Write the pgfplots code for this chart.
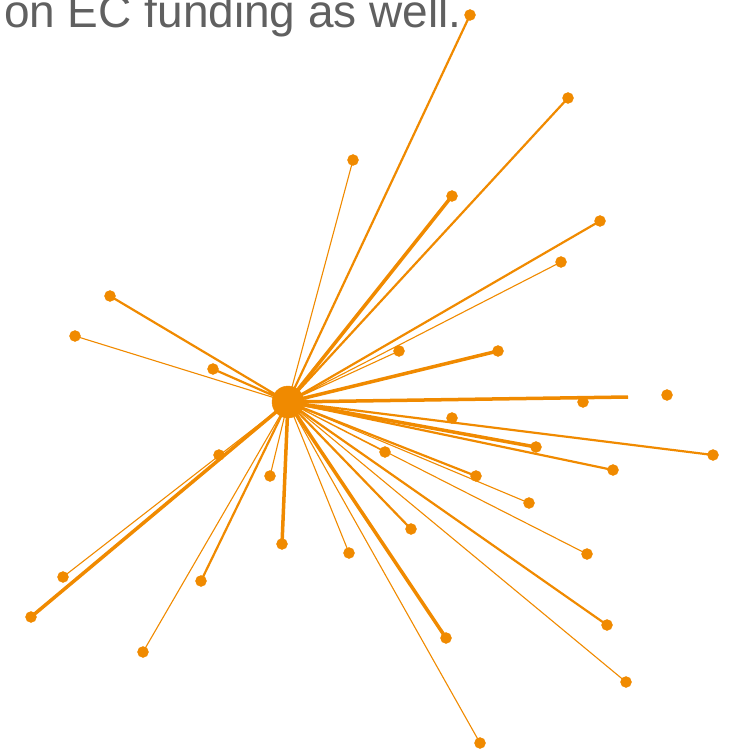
\documentclass[border=0pt]{standalone}
\usepackage{pgfplots}
\pgfplotsset{compat=1.18}
\usepackage{fontspec}
\setmainfont{Liberation Sans}
\definecolor{netorange}{RGB}{240,138,0}
\definecolor{captiongray}{RGB}{96,96,96}
\begin{document}
\begin{tikzpicture}
\useasboundingbox (0,0) rectangle (728pt,751pt);
\begin{axis}[
    scale only axis,
    width=728pt, height=751pt,
    xmin=0, xmax=728,
    ymin=0, ymax=751,
    y dir=reverse,
    hide axis,
    clip=false,
    unbounded coords=jump,
]
% thick edges
\addplot[netorange, line width=3.5pt] coordinates {
 (288,402) (452,196) (nan,nan)
 (288,402) (628,397) (nan,nan)
 (288,402) (536,447) (nan,nan)
 (288,402) (31,617) (nan,nan)
 (288,402) (282,544) (nan,nan)
 (288,402) (446,638) (nan,nan)
 (288,402) (498,351)
};
% medium edges
\addplot[netorange, line width=2.2pt] coordinates {
 (288,402) (470,15) (nan,nan)
 (288,402) (568,98) (nan,nan)
 (288,402) (600,221) (nan,nan)
 (288,402) (110,296) (nan,nan)
 (288,402) (213,369) (nan,nan)
 (288,402) (713,455) (nan,nan)
 (288,402) (613,470) (nan,nan)
 (288,402) (476,476) (nan,nan)
 (288,402) (411,529) (nan,nan)
 (288,402) (201,581) (nan,nan)
 (288,402) (607,625)
};
% thin edges
\addplot[netorange, line width=1.1pt] coordinates {
 (288,402) (353,160) (nan,nan)
 (288,402) (561,262) (nan,nan)
 (288,402) (75,336) (nan,nan)
 (288,402) (399,351) (nan,nan)
 (288,402) (385,452) (nan,nan)
 (288,402) (63,577) (nan,nan)
 (288,402) (270,476) (nan,nan)
 (288,402) (529,503) (nan,nan)
 (288,402) (349,553) (nan,nan)
 (288,402) (587,554) (nan,nan)
 (288,402) (143,652) (nan,nan)
 (288,402) (626,682) (nan,nan)
 (288,402) (480,743)
};
% nodes
\addplot[only marks, mark=*, mark size=5.5pt, color=netorange] coordinates {
 (470,15) (568,98) (353,160) (452,196) (600,221) (561,262) (110,296)
 (75,336) (399,351) (498,351) (213,369) (667,395) (583,402) (452,418)
 (713,455) (536,447) (385,452) (613,470) (476,476) (219,455) (270,476)
 (529,503) (411,529) (282,544) (349,553) (587,554) (63,577) (201,581)
 (31,617) (607,625) (446,638) (143,652) (626,682) (480,743)
};
% hub
\addplot[only marks, mark=*, mark size=16pt, color=netorange] coordinates {(288,402)};
\node[anchor=base east, font=\fontsize{46}{52}\selectfont, text=captiongray, inner sep=0pt]
  at (axis cs:462,28) {on EC funding as well.};
\end{axis}
\end{tikzpicture}
\end{document}
